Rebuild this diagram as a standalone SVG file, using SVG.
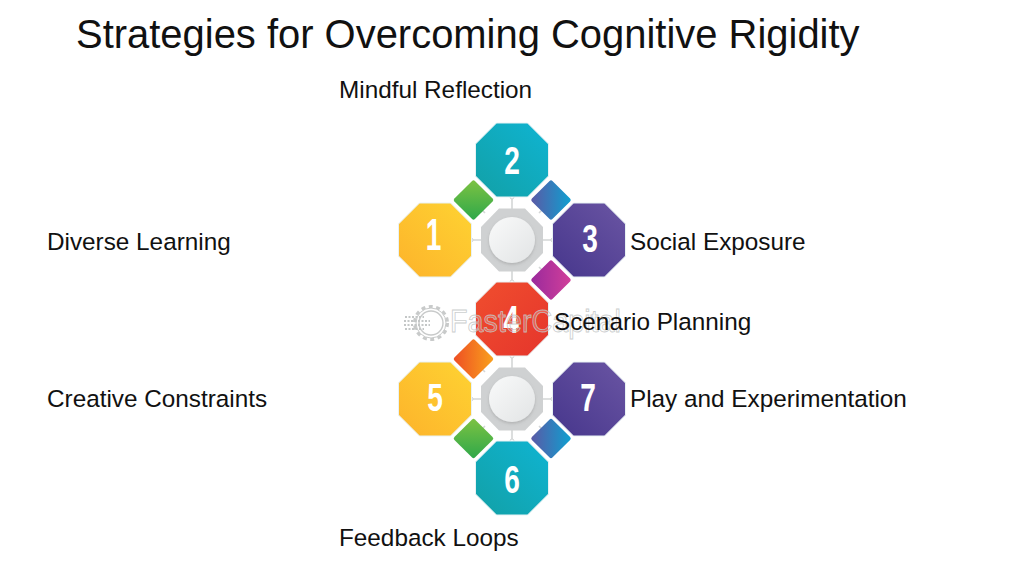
<svg xmlns="http://www.w3.org/2000/svg" width="1024" height="576" viewBox="0 0 1024 576">
<style>
text{font-family:"Liberation Sans",Arial,sans-serif}
.t{font-size:39.95px;fill:#111}
.l{font-size:24.3px;fill:#111}
.d{font-size:39px;font-weight:700;fill:#fff;text-anchor:middle}
.c{stroke:#d4d6d6;stroke-width:1.6;fill:none}
.p{fill:#fff;stroke:#d0d2d2;stroke-width:1}
.w{font-size:31px;fill:#fff;fill-opacity:.2;stroke:#c2c5c5;stroke-width:.9;stroke-opacity:.85}
.o{stroke:#e8f2f4;stroke-width:1}
</style>
<defs>
<polygon id="oct" points="-15.5,-37 15.5,-37 36.5,-16 36.5,16 15.5,37 -15.5,37 -36.5,16 -36.5,-16"/>
<rect id="dia" x="-14.5" y="-14.5" width="29" height="29" rx="2"/>
<polygon id="hub" points="-13,-31.5 13,-31.5 31,-13 31,13 13,31.5 -13,31.5 -31,13 -31,-13"/>
<linearGradient id="yel" x1="1" y1="0" x2="0" y2="1"><stop offset="0" stop-color="#fed332"/><stop offset="1" stop-color="#fdb32b"/></linearGradient>
<linearGradient id="tea" x1="0" y1="1" x2="1" y2="0"><stop offset="0" stop-color="#12a0a6"/><stop offset="1" stop-color="#0fb4d2"/></linearGradient>
<linearGradient id="pur" x1="0" y1="1" x2="1" y2="0"><stop offset="0" stop-color="#46368c"/><stop offset="1" stop-color="#6a55a3"/></linearGradient>
<linearGradient id="red" x1="0" y1="0" x2="1" y2="1"><stop offset="0" stop-color="#f04e2e"/><stop offset="1" stop-color="#e5352c"/></linearGradient>
<linearGradient id="grn" gradientUnits="userSpaceOnUse" x1="-14" y1="-14" x2="14" y2="14"><stop offset="0" stop-color="#7cc242"/><stop offset="1" stop-color="#2fa84a"/></linearGradient>
<linearGradient id="blu" gradientUnits="userSpaceOnUse" x1="14" y1="-14" x2="-14" y2="14"><stop offset="0" stop-color="#0f9fd0"/><stop offset="1" stop-color="#5a5aa6"/></linearGradient>
<linearGradient id="mag" gradientUnits="userSpaceOnUse" x1="14" y1="-14" x2="-14" y2="14"><stop offset="0" stop-color="#d13f9a"/><stop offset="1" stop-color="#9a2a9c"/></linearGradient>
<linearGradient id="org" gradientUnits="userSpaceOnUse" x1="14" y1="-14" x2="-14" y2="14"><stop offset="0" stop-color="#f9a01c"/><stop offset="1" stop-color="#ee4f24"/></linearGradient>
<linearGradient id="cir" x1="0" y1="0" x2="1" y2="1"><stop offset="0" stop-color="#f9fafa"/><stop offset="1" stop-color="#e2e4e5"/></linearGradient>
<filter id="sh" x="-30%" y="-30%" width="160%" height="160%"><feDropShadow dx="0" dy="1.5" stdDeviation="1.500" flood-color="#777" flood-opacity=".35"/></filter>
</defs>
<rect width="1024" height="576" fill="#fff"/>
<text class="t" x="76" y="48" id="title">Strategies for Overcoming Cognitive Rigidity</text>

<g id="connectors">
<path class="c" d="M512 197V209M512 271V282M471 240H481M543 240H553M485 213L478 206M539 213L546 206M539 267L546 274"/>
<path class="c" d="M512 356V368M512 430V441M471 399H481M543 399H553M485 372L478 365M485 426L478 433M539 426L546 433"/>
<circle class="p" cx="512" cy="197" r="2"/><circle class="p" cx="471" cy="240" r="2"/><circle class="p" cx="553" cy="240" r="2"/><circle class="p" cx="512" cy="282" r="2"/>
<circle class="p" cx="512" cy="356" r="2"/><circle class="p" cx="471" cy="399" r="2"/><circle class="p" cx="553" cy="399" r="2"/><circle class="p" cx="512" cy="441" r="2"/>
</g>

<g id="hub-a" transform="translate(512 240)"><use href="#hub" fill="#cfd1d2"/><circle r="23" fill="url(#cir)" filter="url(#sh)"/></g>
<g id="hub-b" transform="translate(512 399)"><use href="#hub" fill="#cfd1d2"/><circle r="23" fill="url(#cir)" filter="url(#sh)"/></g>

<g id="diamonds">
<use href="#dia" fill="url(#grn)" transform="translate(473.500 200) rotate(45)"/>
<use href="#dia" fill="url(#blu)" transform="translate(551 200) rotate(45)"/>
<use href="#dia" fill="url(#mag)" transform="translate(551 280) rotate(45)"/>
<use href="#dia" fill="url(#org)" transform="translate(473.500 359) rotate(45)"/>
<use href="#dia" fill="url(#grn)" transform="translate(473.500 438.500) rotate(45)"/>
<use href="#dia" fill="url(#blu)" transform="translate(551 438.500) rotate(45)"/>
</g>

<g id="node-1"><use class="o" href="#oct" fill="url(#yel)" x="435" y="240"/><text class="d" transform="translate(433.500 250) scale(.72 1.12)">1</text><text class="l" x="47" y="249.500">Diverse Learning</text></g>
<g id="node-2"><use class="o" href="#oct" fill="url(#tea)" x="512" y="160"/><text class="d" transform="translate(512 174) scale(.72 1)">2</text><text class="l" x="339" y="98">Mindful Reflection</text></g>
<g id="node-3"><use class="o" href="#oct" fill="url(#pur)" x="589" y="240"/><text class="d" transform="translate(590 252) scale(.72 1)">3</text><text class="l" x="630" y="249.500">Social Exposure</text></g>
<g id="node-4"><use class="o" href="#oct" fill="url(#red)" x="512" y="319"/><text class="d" transform="translate(511 333) scale(.72 1)">4</text></g>
<g id="node-5"><use class="o" href="#oct" fill="url(#yel)" x="435" y="399"/><text class="d" transform="translate(435 411) scale(.72 1)">5</text><text class="l" x="47" y="406.500">Creative Constraints</text></g>
<g id="node-6"><use class="o" href="#oct" fill="url(#tea)" x="512" y="478"/><text class="d" transform="translate(512 493) scale(.72 1)">6</text><text class="l" x="339" y="546">Feedback Loops</text></g>
<g id="node-7"><use class="o" href="#oct" fill="url(#pur)" x="589" y="399"/><text class="d" transform="translate(588 411) scale(.72 1)">7</text><text class="l" x="630" y="406.500">Play and Experimentation</text></g>

<g id="watermark">
<circle cx="431" cy="323" r="12" fill="none" stroke="#c8caca" stroke-width="1.4"/>
<circle cx="431" cy="323" r="15" fill="none" stroke="#c8caca" stroke-width="1"/>
<circle cx="431" cy="323" r="16.500" fill="none" stroke="#c8caca" stroke-width="3" stroke-dasharray="4 3.500"/>
<path d="M405 317H424M404 321H430M404 325H430M405 329H424" stroke="#c4c7c7" stroke-width="2" stroke-dasharray="2 1.500" fill="none"/>
<text class="w" x="450" y="332" textLength="171" lengthAdjust="spacingAndGlyphs">FasterCapital</text>
</g>
<text class="l" id="label-4" x="554" y="330">Scenario Planning</text>
</svg>
